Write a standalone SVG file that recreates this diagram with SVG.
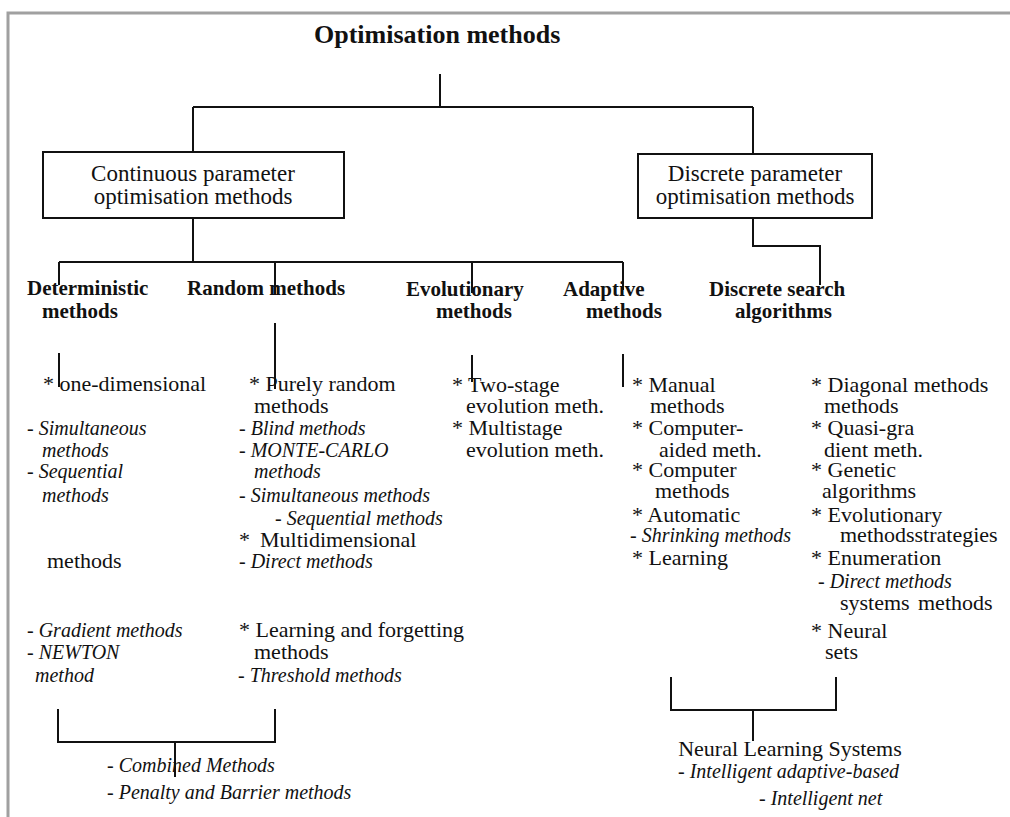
<svg xmlns="http://www.w3.org/2000/svg" width="1010" height="817" viewBox="0 0 1010 817">
<style>
text{font-family:"Liberation Serif","Times New Roman",serif;fill:#111}
.title{font-size:26px;font-weight:bold}
.bx{font-size:23px;text-anchor:middle}
.h{font-size:21px;font-weight:bold}
.t{font-size:22px}
.i{font-size:20px;font-style:italic}
.ln{fill:none;stroke:#111;stroke-width:2}
.node{fill:#fff;stroke:#111;stroke-width:2}
.frame{fill:none;stroke:#a0a0a0;stroke-width:3}
</style>
<rect width="1010" height="817" fill="#fff"/>
<path class="frame" d="M8 817 V13 H1010"/>
<g id="connectors">
<path class="ln" d="M440 74 V107 M193 107 H753 M193 107 V152 M753 107 V154"/>
<path class="ln" d="M193 218 V262 M59 262 H623 M59 262 V285 M275 262 V295 M472 262 V293 M623 262 V290"/>
<path class="ln" d="M753 218 V246 H820 V285"/>
<path class="ln" d="M59 353 V387 M275 323 V389 M472 355 V382 M623 354 V387"/>
<path class="ln" d="M58 709 V742 H275 V709 M175 742 V777"/>
<path class="ln" d="M671 677 V710 H836 V677 M753 710 V741"/>
</g>
<g id="root"><text class="title" x="314" y="43">Optimisation methods</text></g>
<g id="continuous">
<rect class="node" x="43" y="152" width="301" height="66"/>
<text class="bx" x="193" y="181">Continuous parameter</text>
<text class="bx" x="193" y="204">optimisation methods</text>
</g>
<g id="discrete">
<rect class="node" x="638" y="154" width="234" height="64"/>
<text class="bx" x="755" y="181">Discrete parameter</text>
<text class="bx" x="755" y="204">optimisation methods</text>
</g>
<g id="deterministic">
<text class="h" x="27" y="295">Deterministic</text>
<text class="h" x="42" y="318">methods</text>
<text class="t" x="43" y="391">* one-dimensional</text>
<text class="i" x="27" y="435">- Simultaneous</text>
<text class="i" x="42" y="457">methods</text>
<text class="i" x="27" y="478">- Sequential</text>
<text class="i" x="42" y="502">methods</text>
<text class="t" x="47" y="568">methods</text>
<text class="i" x="27" y="637">- Gradient methods</text>
<text class="i" x="27" y="659">- NEWTON</text>
<text class="i" x="35" y="682">method</text>
</g>
<g id="random">
<text class="h" x="187" y="295">Random methods</text>
<text class="t" x="249" y="391">* Purely random</text>
<text class="t" x="254" y="413">methods</text>
<text class="i" x="239" y="435">- Blind methods</text>
<text class="i" x="239" y="457">- MONTE-CARLO</text>
<text class="i" x="254" y="478">methods</text>
<text class="i" x="239" y="502">- Simultaneous methods</text>
<text class="i" x="275" y="525">- Sequential methods</text>
<text class="t" x="239" y="547">*<tspan x="260">Multidimensional</tspan></text>
<text class="i" x="239" y="568">- Direct methods</text>
<text class="t" x="239" y="637">* Learning and forgetting</text>
<text class="t" x="254" y="659">methods</text>
<text class="i" x="238" y="682">- Threshold methods</text>
</g>
<g id="evolutionary">
<text class="h" x="406" y="296">Evolutionary</text>
<text class="h" x="436" y="318">methods</text>
<text class="t" x="452" y="392">* Two-stage</text>
<text class="t" x="466" y="413">evolution meth.</text>
<text class="t" x="452" y="435">* Multistage</text>
<text class="t" x="466" y="457">evolution meth.</text>
</g>
<g id="adaptive">
<text class="h" x="563" y="296">Adaptive</text>
<text class="h" x="586" y="318">methods</text>
<text class="t" x="632" y="392">* Manual</text>
<text class="t" x="650" y="413">methods</text>
<text class="t" x="632" y="435">* Computer-</text>
<text class="t" x="659" y="457">aided meth.</text>
<text class="t" x="632" y="477">* Computer</text>
<text class="t" x="655" y="498">methods</text>
<text class="t" x="632" y="522">* Automatic</text>
<text class="i" x="630" y="542">- Shrinking methods</text>
<text class="t" x="632" y="565">* Learning</text>
</g>
<g id="discrete-search">
<text class="h" x="709" y="296">Discrete search</text>
<text class="h" x="735" y="318">algorithms</text>
<text class="t" x="811" y="392">* Diagonal methods</text>
<text class="t" x="824" y="413">methods</text>
<text class="t" x="811" y="435">* Quasi-gra</text>
<text class="t" x="824" y="457">dient meth.</text>
<text class="t" x="811" y="477">* Genetic</text>
<text class="t" x="822" y="498">algorithms</text>
<text class="t" x="811" y="522">* Evolutionary</text>
<text class="t" x="840" y="542">methodsstrategies</text>
<text class="t" x="811" y="565">* Enumeration</text>
<text class="i" x="818" y="588">- Direct methods</text>
<text class="t" x="840" y="610">systems<tspan x="918">methods</tspan></text>
<text class="t" x="811" y="638">* Neural</text>
<text class="t" x="825" y="659">sets</text>
</g>
<g id="combined">
<text class="i" x="107" y="772">- Combined Methods</text>
<text class="i" x="107" y="799">- Penalty and Barrier methods</text>
</g>
<g id="neural">
<text class="bx" x="790" y="756" style="font-size:22px">Neural Learning Systems</text>
<text class="i" x="678" y="778">- Intelligent adaptive-based</text>
<text class="i" x="759" y="805">- Intelligent net</text>
</g>
</svg>
